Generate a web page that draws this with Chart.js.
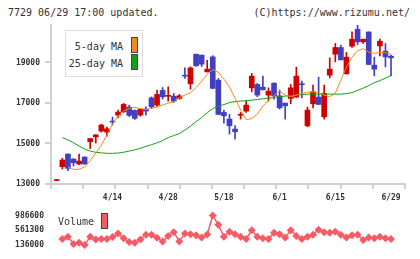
<!DOCTYPE html>
<html>
<head>
<meta charset="utf-8">
<script src="https://cdn.jsdelivr.net/npm/chart.js@4.4.1/dist/chart.umd.min.js"></script>
<style>
  body { margin: 0; width: 420px; height: 259px; background: #fff; position: relative; overflow: hidden; }
  .txt { position: absolute; font-family: "DejaVu Sans Mono", monospace; font-size: 10px; line-height: 12px; color: #333; white-space: nowrap; }
  canvas { position: absolute; left: 0; }
  #legend { position: absolute; left: 65px; top: 30px; width: 78px; height: 47px; box-sizing: border-box; border: 1px solid #ddd; background: #fff; }
  .sw { position: absolute; width: 7px; height: 16px; box-sizing: border-box; border: 1px solid #444; }
</style>
</head>
<body>
<div class="txt" style="left:8px;top:7px">7729 06/29 17:00 updated.</div>
<div class="txt" style="right:10px;top:7px">(C)https://www.rizumu.net/</div>

<canvas id="mainChart" width="420" height="205" style="top:0"></canvas>
<canvas id="volChart" width="420" height="59" style="top:200px"></canvas>

<div id="legend">
  <div class="txt" style="right:19px;top:10px">5-day MA</div>
  <div class="sw" style="left:65px;top:6px;background:#f08c1e"></div>
  <div class="txt" style="right:19px;top:27px">25-day MA</div>
  <div class="sw" style="left:65px;top:23px;background:#14a014"></div>
</div>
<div class="txt" style="left:58px;top:216px">Volume</div>
<div class="sw" style="left:101px;top:213px;background:#f85a64"></div>

<script>
// daily candles 3/31 .. 6/29 (index 0..60)
const opens = [
  13170, 13853, 14479, 14233, 13986, 14331, 15085, 15327, 15613, 15564,
  16081, 16402, 16564, 16796, 16633, 16402, 16698, 17255, 16895, 17619,
  17329, 17338, 17225, 18349, 17945, 19409, 19360, 18536, 19276, 18127,
  16535, 16205, 15712, 16392, 16599, 17748, 17915, 17782, 17388, 17979,
  17353, 16993, 17225, 17289, 17930, 15874, 16959, 17289, 16318, 18374,
  19409, 19739, 18438, 19803, 20642, 20015, 20508, 18867, 19818, 19557,
  19310
];
const highs = [
  13190, 14267, 14479, 14250, 14479, 14340, 15260, 15440, 15958, 15810,
  16303, 16648, 16979, 16895, 16660, 16720, 16811, 17304, 17634, 17767,
  17797, 17472, 17422, 18733, 18783, 19420, 19370, 19113, 19335, 18211,
  16648, 16436, 15884, 16535, 17092, 18457, 17964, 18324, 17748, 17990,
  17634, 17000, 17915, 18768, 18078, 16796, 17881, 18275, 17881, 19227,
  19936, 19853, 19493, 20508, 20839, 20160, 20510, 19261, 20149, 19936,
  19360
];
const lows = [
  13170, 13740, 13656, 13887, 13960, 13980, 14750, 15021, 15564, 15366,
  15909, 16278, 16535, 16328, 16190, 16350, 16402, 16732, 16811, 17191,
  17092, 17028, 17190, 18211, 17684, 18820, 18800, 18530, 17700, 16420,
  16007, 15465, 15219, 16205, 16535, 17550, 17304, 17640, 17092, 17191,
  16698, 16205, 16959, 17280, 17255, 15825, 16761, 16920, 16205, 18241,
  19029, 19120, 18430, 19739, 19887, 19936, 18890, 18339, 19325, 18783,
  18339
];
const closes = [
  13190, 14183, 13774, 14050, 14134, 13986, 15243, 15426, 15909, 15726,
  16057, 16550, 16929, 16387, 16239, 16683, 16599, 16811, 17422, 17304,
  17348, 17092, 17353, 18324, 18733, 18832, 18916, 18670, 17720, 16436,
  16367, 15874, 15578, 16412, 16895, 18324, 17388, 17649, 17585, 17353,
  16761, 16860, 17748, 18324, 17900, 16648, 17550, 16929, 17472, 18670,
  19739, 19128, 19261, 20149, 20015, 20149, 18901, 18670, 20050, 19276,
  19227
];
const ma5 = [
  null, null, 13853, 13725, 13725, 13838, 14159, 14528, 14923, 15416,
  15958, 16352, 16599, 16732, 16781, 16722, 16683, 16722, 16811, 16895,
  16993, 17043, 17264, 17388, 17501, 17757, 18078, 18423, 18645, 18522,
  18177, 17782, 17240, 16648, 16180, 16229, 16451, 16845, 17141, 17363,
  17585, 17388, 17314, 17388, 17472, 17536, 17550, 17511, 17388, 17314,
  17486, 18127, 18768, 19261, 19582, 19680, 19508, 19458, 19483, 19483,
  19409
];
const ma25 = [
  null, 15292, 15179, 15036, 14873, 14726, 14627, 14563, 14538, 14514,
  14514, 14528, 14568, 14627, 14686, 14760, 14859, 14942, 15031, 15145,
  15292, 15391, 15490, 15662, 15859, 16081, 16278, 16525, 16722, 16845,
  16919, 17018, 17067, 17092, 17117, 17141, 17176, 17205, 17240, 17274,
  17314, 17338, 17363, 17388, 17412, 17437, 17437, 17437, 17437, 17437,
  17437, 17437, 17462, 17511, 17619, 17733, 17856, 18004, 18103, 18226,
  18359
];
const volumes = [
  null, 294000, 366000, 150000, 186000, 121000, 366000, 280000, 294000, 294000,
  352000, 460000, 316000, 207000, 186000, 280000, 424000, 424000, 330000, 222000,
  388000, 496000, 222000, 460000, 438000, 409000, 337000, 430000, 986600, 712000,
  366000, 510000, 438000, 366000, 294000, 554000, 366000, 316000, 294000, 482000,
  438000, 337000, 554000, 388000, 294000, 366000, 424000, 568000, 496000, 482000,
  510000, 424000, 337000, 409000, 424000, 265000, 337000, 316000, 366000, 316000,
  294000
];
const dateLabels = ["4/14", "4/28", "5/18", "6/1", "6/15", "6/29"];
const dateIdx = [10, 20, 30, 40, 50, 60];
const priceTicks = [13000, 15000, 17000, 19000];
const volTicks = [136000, 561300, 986600];

const RED = "#d00000";
const BLUE = "#4040c0";
const GRID = "#d0d0d0";
const xMin = -1.04;
const xMax = 62.51;
const tickFont = { family: "DejaVu Sans Mono", size: 8, weight: "bold" };

const candleColors = closes.map((c, i) => (c >= opens[i] ? RED : BLUE));

const mainChart = new Chart(document.getElementById("mainChart"), {
  type: "bar",
  data: {
    datasets: [
      {
        type: "line",
        data: ma5.map((v, i) => ({ x: i, y: v })),
        borderColor: "#f08c1e",
        borderWidth: 1,
        pointRadius: 0,
        order: 0,
      },
      {
        type: "line",
        data: ma25.map((v, i) => ({ x: i, y: v })),
        borderColor: "#14a014",
        borderWidth: 1,
        pointRadius: 0,
        order: 1,
      },
      {
        // bodies
        data: opens.map((o, i) => ({ x: i, y: [o, closes[i]] })),
        backgroundColor: candleColors,
        barThickness: 5,
        minBarLength: 1,
        grouped: false,
        order: 2,
      },
      {
        // wicks
        data: lows.map((l, i) => ({ x: i, y: [l, highs[i]] })),
        backgroundColor: candleColors,
        barThickness: 1,
        minBarLength: 1,
        grouped: false,
        order: 3,
      },
    ],
  },
  options: {
    responsive: false,
    animation: false,
    layout: { padding: { top: 25, right: 15, left: 0, bottom: 0 } },
    plugins: { legend: { display: false }, tooltip: { enabled: false } },
    scales: {
      x: {
        type: "linear",
        min: xMin,
        max: xMax,
        offset: false,
        grid: {
          offset: false,
          drawOnChartArea: false,
          tickLength: 5,
          lineWidth: 2,
          color: (ctx) => (ctx.tick && ctx.tick.lab ? "rgba(0,0,0,0)" : GRID),
        },
        border: { color: GRID, width: 2 },
        ticks: {
          autoSkip: false,
          maxRotation: 0,
          padding: 4,
          color: "#333",
          font: tickFont,
          callback: (v, i, t) => t[i].lab || "",
        },
        afterBuildTicks: (s) => {
          const t = [];
          for (let k = 0; k <= 11; k++) t.push({ value: xMin + (k * (xMax - xMin)) / 11, lab: "" });
          dateIdx.forEach((d, j) => t.push({ value: d, lab: dateLabels[j] }));
          t.sort((a, b) => a.value - b.value);
          s.ticks = t;
        },
        afterFit: (s) => {
          s.height = 21;
        },
      },
      y: {
        min: 13000,
        max: 20850,
        grid: { drawOnChartArea: false, tickLength: 6, lineWidth: 2, color: GRID },
        border: { color: GRID, width: 2 },
        ticks: { padding: 5, color: "#333", font: tickFont, callback: (v) => String(v) },
        afterBuildTicks: (s) => {
          s.ticks = priceTicks.map((v) => ({ value: v }));
        },
        afterFit: (s) => {
          s.width = 51;
        },
      },
    },
  },
});

const volChart = new Chart(document.getElementById("volChart"), {
  type: "line",
  data: {
    datasets: [
      {
        data: volumes.map((v, i) => ({ x: i, y: v })),
        borderColor: "#f85a64",
        borderWidth: 1.5,
        pointStyle: "rectRot",
        pointRadius: 4,
        pointBorderWidth: 0,
        pointBackgroundColor: "#f85a64",
        clip: false,
      },
    ],
  },
  options: {
    responsive: false,
    animation: false,
    layout: { padding: { top: 4, right: 15, left: 0, bottom: 7 } },
    plugins: { legend: { display: false }, tooltip: { enabled: false } },
    scales: {
      x: { type: "linear", min: xMin, max: xMax, display: false },
      y: {
        min: 55917,
        max: 1094820,
        grid: { display: false, drawTicks: false },
        border: { display: false },
        ticks: { padding: 7, color: "#333", font: tickFont, callback: (v) => String(v) },
        afterBuildTicks: (s) => {
          s.ticks = volTicks.map((v) => ({ value: v }));
        },
        afterFit: (s) => {
          s.width = 51;
        },
      },
    },
  },
});
</script>
</body>
</html>
